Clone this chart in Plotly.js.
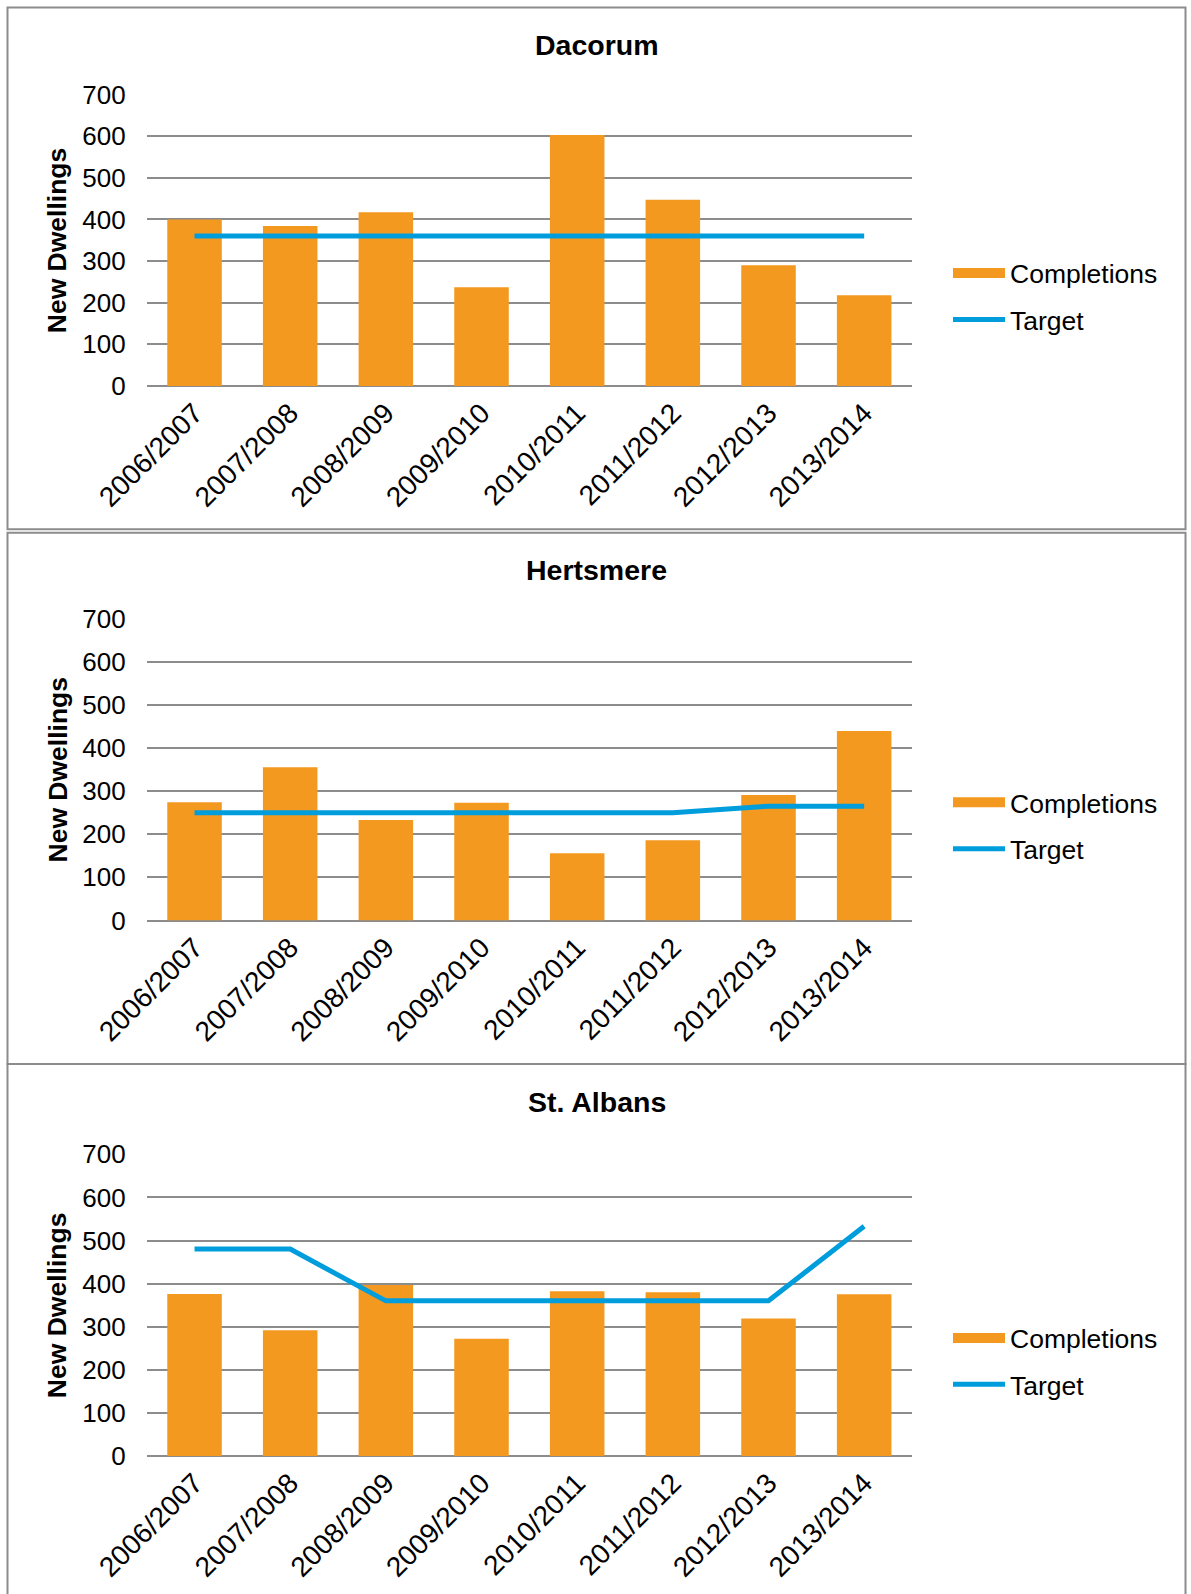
<!DOCTYPE html>
<html>
<head>
<meta charset="utf-8">
<script src="https://cdn.plot.ly/plotly-3.0.1.min.js"></script>
<style>
  html, body { margin: 0; padding: 0; background: #ffffff; }
  #chart { width: 1191px; height: 1594px; }
</style>
</head>
<body>
<div id="chart"></div>
<script>
// ---- Data ----
const categories = ['2006/2007', '2007/2008', '2008/2009', '2009/2010', '2010/2011', '2011/2012', '2012/2013', '2013/2014'];
const panelTitles = ['Dacorum', 'Hertsmere', 'St. Albans'];
const dacorumCompletions = [400, 384, 417, 237, 603, 447, 290, 218];
const dacorumTarget = [360, 360, 360, 360, 360, 360, 360, 360];
const hertsmereCompletions = [274, 355, 233, 273, 156, 186, 291, 439];
const hertsmereTarget = [250, 250, 250, 250, 250, 250, 265, 265];
const stAlbansCompletions = [376, 292, 397, 272, 382, 380, 319, 375];
const stAlbansTarget = [480, 480, 360, 360, 360, 360, 360, 533];
const yTickValues = [0, 100, 200, 300, 400, 500, 600, 700];
const yAxisTitle = 'New Dwellings';
const seriesNames = ['Completions', 'Target'];

// ---- Styling / layout helpers ----
const W = 1191, H = 1594;
const FONT = '"Liberation Sans", Arial, Helvetica, sans-serif';
const ORANGE = '#f4991f';
const BLUE = '#009ddc';
const GRID = '#8c8c8c';
const px = v => v / W;
const py = v => 1 - v / H;

const panels = [
  { comp: dacorumCompletions, target: dacorumTarget, top: 7.5, bottom: 529.3, plotTop: 94.5, plotBot: 386 },
  { comp: hertsmereCompletions, target: hertsmereTarget, top: 532.7, bottom: 1064, plotTop: 618.5, plotBot: 920.5 },
  { comp: stAlbansCompletions, target: stAlbansTarget, top: 1064, bottom: 1610, plotTop: 1154.3, plotBot: 1456 }
];

const plotLeft = 146.7, plotRight = 912;
const traces = [];
const layout = {
  width: W, height: H,
  margin: { l: 0, r: 0, t: 0, b: 0 },
  paper_bgcolor: '#ffffff',
  plot_bgcolor: 'rgba(0,0,0,0)',
  font: { family: FONT, size: 26, color: '#000000' },
  bargap: 0.43,
  showlegend: true,
  shapes: [],
  annotations: []
};

panels.forEach((p, i) => {
  const n = i + 1;
  const xa = n === 1 ? 'x' : 'x' + n;
  const ya = n === 1 ? 'y' : 'y' + n;
  const legendId = n === 1 ? 'legend' : 'legend' + n;

  // Completions bars (legend entry drawn by the swatch trace below)
  traces.push({
    type: 'bar', name: seriesNames[0], x: categories, y: p.comp,
    xaxis: xa, yaxis: ya, legend: legendId, legendgroup: 'c' + n,
    showlegend: false,
    marker: { color: ORANGE, line: { width: 0 } },
    hoverinfo: 'x+y'
  });
  // legend swatch for Completions: wide flat bar like the original legend key
  traces.push({
    type: 'scatter', mode: 'lines', name: seriesNames[0], x: [categories[0]], y: [null],
    xaxis: xa, yaxis: ya, legend: legendId, legendgroup: 'c' + n,
    line: { color: ORANGE, width: 15 },
    hoverinfo: 'skip'
  });
  traces.push({
    type: 'scatter', mode: 'lines', name: seriesNames[1], x: categories, y: p.target,
    xaxis: xa, yaxis: ya, legend: legendId, legendgroup: 't' + n,
    line: { color: BLUE, width: 5 },
    hoverinfo: 'x+y'
  });

  layout['xaxis' + (n === 1 ? '' : n)] = {
    domain: [px(plotLeft), px(plotRight)],
    anchor: ya,
    type: 'category',
    tickangle: -45,
    tickfont: { family: FONT, size: 28, color: '#000000' },
    ticklabelstandoff: 4,
    showgrid: false,
    showline: false,
    zeroline: false,
    ticks: '',
    fixedrange: true
  };
  layout['yaxis' + (n === 1 ? '' : n)] = {
    domain: [py(p.plotBot), py(p.plotTop)],
    anchor: xa,
    range: [0, 700],
    tickvals: yTickValues,
    tickfont: { family: FONT, size: 26, color: '#000000' },
    showgrid: true,
    gridcolor: GRID,
    gridwidth: 2,
    zeroline: true,
    zerolinecolor: GRID,
    zerolinewidth: 2,
    showline: false,
    ticks: '',
    ticklabelstandoff: 20,
    fixedrange: true
  };
  layout[legendId] = {
    x: px(948), xanchor: 'left',
    y: py((p.plotTop + p.plotBot) / 2 + 56), yanchor: 'middle',
    font: { family: FONT, size: 26.5, color: '#000000' },
    bgcolor: 'rgba(0,0,0,0)',
    itemwidth: 52,
    traceorder: 'grouped',
    tracegroupgap: 9
  };

  // panel border
  layout.shapes.push({
    type: 'rect', xref: 'paper', yref: 'paper', layer: 'below',
    x0: px(7.5), x1: px(1185.5), y0: py(p.bottom), y1: py(p.top),
    line: { color: GRID, width: 2 }, fillcolor: 'rgba(0,0,0,0)'
  });
  // panel title
  layout.annotations.push({
    xref: 'paper', yref: 'paper', x: px(596.5), y: py(p.top + 37.5),
    xanchor: 'center', yanchor: 'middle', showarrow: false,
    text: '<b>' + panelTitles[i] + '</b>',
    font: { family: FONT, size: 28.5, color: '#000000' }
  });
  // y-axis title
  layout.annotations.push({
    xref: 'paper', yref: 'paper', x: px(57), y: py((p.plotTop + p.plotBot) / 2),
    xanchor: 'center', yanchor: 'middle', showarrow: false, textangle: -90,
    text: '<b>' + yAxisTitle + '</b>',
    font: { family: FONT, size: 26.5, color: '#000000' }
  });
});

Plotly.newPlot('chart', traces, layout, { displayModeBar: false, staticPlot: true });
</script>
</body>
</html>
